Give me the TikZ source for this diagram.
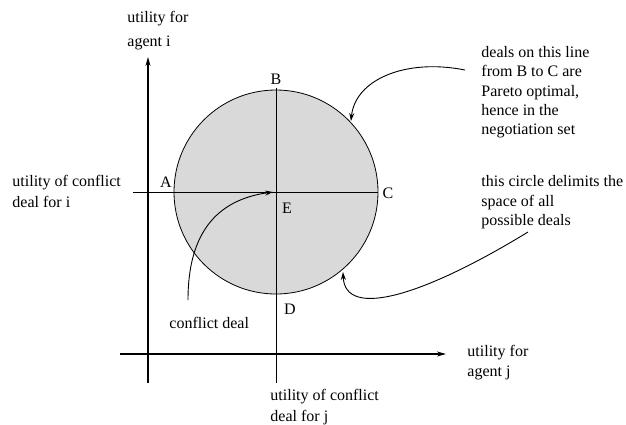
\documentclass[tikz,border=0pt]{standalone}
\usepackage{fontspec}
\setmainfont{Liberation Serif}
\usetikzlibrary{arrows.meta}
\definecolor{dealgray}{gray}{0.85}
\tikzset{
  txt/.style={font=\fontsize{16}{20}\selectfont, align=left, inner sep=0pt, anchor=north west},
  ptlbl/.style={font=\fontsize{16}{20}\selectfont, inner sep=0pt},
  axis/.style={-{Stealth[length=9pt,width=5pt]}, line width=1.1pt},
  ptr/.style={-{Stealth[length=8pt,width=5pt]}, line width=0.9pt},
}
\begin{document}
\begin{tikzpicture}[x=1pt,y=-1pt,line width=0.9pt]
\useasboundingbox (0,0) rectangle (626,424);
\coordinate (E0) at (276,192);
\coordinate (Yfoot) at (148,383);
\coordinate (Yend) at (148,57);
\coordinate (Xfoot) at (120,354);
\coordinate (Xend) at (446,354);
\coordinate (Atip) at (133,192);
\coordinate (Ctip) at (378,192);
\coordinate (Btip) at (276,88);
\coordinate (Dfoot) at (276,383);

% space of deals
\fill[dealgray] (E0) circle[radius=102];
\draw[line width=0.8pt] (E0) circle[radius=102];
\draw (Atip) -- (Ctip);
\draw (Btip) -- (Dfoot);

% axes
\draw[axis] (Yfoot) -- (Yend);
\draw[axis] (Xfoot) -- (Xend);

\node[ptlbl] (A) at (166,182) {A};
\node[ptlbl] (B) at (276,79) {B};
\node[ptlbl] (C) at (388,193) {C};
\node[ptlbl] (D) at (290,309) {D};
\node[ptlbl] (E) at (287,208) {E};

\node[txt, font=\fontsize{16}{24}\selectfont] (yname) at (127,11) {utility for\\agent i};
\node[txt, font=\fontsize{16}{21}\selectfont] (iconf) at (12,175) {utility of conflict\\deal for i};
\node[txt] (cdeal) at (169,317) {conflict deal};
\node[txt, font=\fontsize{16}{20.5}\selectfont] (jconf) at (270,389) {utility of conflict\\deal for j};
\node[txt] (xname) at (467,345) {utility for\\agent j};
\node[txt, font=\fontsize{16}{19.3}\selectfont] (pareto) at (481,46) {deals on this line\\from B to C are\\Pareto optimal,\\hence in the\\negotiation set};
\node[txt, font=\fontsize{16}{19.5}\selectfont] (space) at (481,175) {this circle delimits the\\space of all\\possible deals};

% pointers
\coordinate (cdtail) at (188,300);
\coordinate (ptail) at (465,70);
\coordinate (phead) at (351,121);
\coordinate (stail) at (528,232);
\coordinate (shead) at (343,272);
\draw[ptr] (cdtail) .. controls (188,235) and (215,200) .. ([xshift=-3pt]E0);
\draw[ptr] (ptail) .. controls (405,58) and (355,80) .. (phead);
\draw[ptr] (stail) .. controls (425,295) and (345,320) .. (shead);
\end{tikzpicture}
\end{document}
